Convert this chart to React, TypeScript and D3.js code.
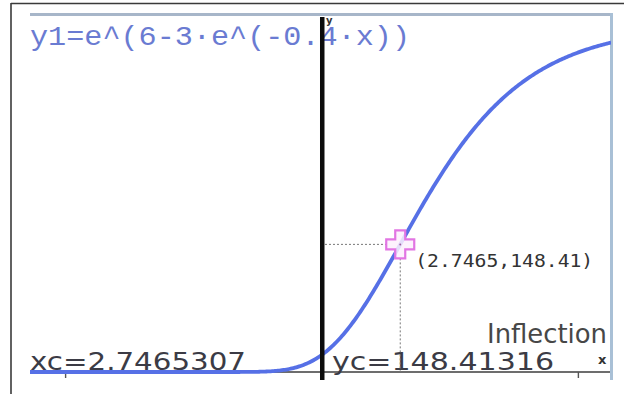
import React from "react";
import * as d3 from "d3";

// Function shown on the graph screen: y1 = e^(A - B·e^(-K·x))
const A = 6;
const B = 3;
const K = 0.4;

// Graph window (x and y ranges of the screen)
const xWindow = [-10.25, 10.18];
const yWindow = [-9.3, 414];

// Axis tick positions visible on the x axis
const xTicks = [-9, 9];

// Text fields shown on screen
const formulaLabel = "y1=e^(6-3·e^(-0.4·x))";
const pointLabel = "(2.7465,148.41)";
const xcLabel = "xc=2.7465307";
const ycLabel = "yc=148.41316";
const modeLabel = "Inflection";

const W = 624;
const H = 394;
const screen = { left: 30, right: 611, top: 16, bottom: 380 };

const f = (x: number) => Math.exp(A - B * Math.exp(-K * x));

export default function App() {
  const x = d3.scaleLinear().domain(xWindow).range([screen.left, 612]);
  const y = d3.scaleLinear().domain(yWindow).range([screen.bottom, screen.top]);

  const xs = d3.range(xWindow[0], xWindow[1] + 0.001, 0.05);
  const line = d3
    .line<number>()
    .x((d) => x(d))
    .y((d) => y(f(d)))
    .curve(d3.curveLinear);

  const xi = Math.log(B) / K;
  const yi = f(xi);
  const cx = x(xi);
  const cy = y(yi);
  const x0 = x(0);
  const y0 = y(0);

  // plus-shaped point marker
  const a = 14;
  const w = 5;
  const plus = `M${cx - w},${cy - a}H${cx + w}V${cy - w}H${cx + a}V${cy + w}H${cx + w}V${cy + a}H${cx - w}V${cy + w}H${cx - a}V${cy - w}H${cx - w}Z`;

  return (
    <div style={{ position: "fixed", left: 0, top: 0 }}>
      <svg width={W} height={H} style={{ display: "block", background: "#fff" }}>
        <defs>
          <clipPath id="scr">
            <rect x={screen.left} y={screen.top} width={screen.right - screen.left} height={screen.bottom - screen.top} />
          </clipPath>
        </defs>

        {/* outer frame */}
        <line x1={11} y1={3.5} x2={W} y2={3.5} stroke="#3a3a3a" strokeWidth={1.6} />
        <line x1={11} y1={3} x2={11} y2={H} stroke="#3a3a3a" strokeWidth={1.6} />

        {/* screen border */}
        <rect x={screen.left} y={13} width={screen.right - screen.left + 2} height={3} fill="#a7b6c9" />
        <rect x={screen.right - 1} y={13} width={3} height={screen.bottom - 13} fill="#a9c0d6" />

        {/* formula */}
        <text
          x={screen.left}
          y={45}
          fontFamily="'Liberation Mono', 'DejaVu Sans Mono', monospace"
          fontSize={28}
          fill="#6a7bd2"
          textLength={380}
          lengthAdjust="spacingAndGlyphs"
        >
          {formulaLabel}
        </text>

        {/* x axis */}
        <line x1={screen.left} y1={y0} x2={screen.right - 1} y2={y0} stroke="#3c3c3c" strokeWidth={1.4} />
        {xTicks.map((t) => (
          <line key={t} x1={x(t)} y1={y0} x2={x(t)} y2={y0 + 6} stroke="#555" strokeWidth={1.4} />
        ))}

        {/* bottom readouts */}
        <text
          x={screen.left}
          y={370}
          fontFamily="'DejaVu Sans', sans-serif"
          fontSize={24}
          fill="#3b3b45"
          textLength={216}
          lengthAdjust="spacingAndGlyphs"
        >
          {xcLabel}
        </text>
        <text
          x={332}
          y={370}
          fontFamily="'DejaVu Sans', sans-serif"
          fontSize={24}
          fill="#3b3b45"
          textLength={222}
          lengthAdjust="spacingAndGlyphs"
        >
          {ycLabel}
        </text>
        <text
          x={607}
          y={343}
          textAnchor="end"
          fontFamily="'DejaVu Sans', sans-serif"
          fontSize={27}
          fill="#474747"
          textLength={120}
          lengthAdjust="spacingAndGlyphs"
        >
          {modeLabel}
        </text>
        <text x={598} y={364} fontFamily="'DejaVu Sans', sans-serif" fontSize={13} fontWeight="bold" fill="#333">
          x
        </text>

        {/* curve */}
        <path d={line(xs) || ""} fill="none" stroke="#5670e6" strokeWidth={3.8} strokeLinejoin="round" clipPath="url(#scr)" />

        {/* y axis */}
        <rect x={x0 - 2} y={17} width={4.5} height={screen.bottom - 17} fill="#0c0c0c" />
        <text x={326} y={24} fontFamily="'DejaVu Sans', sans-serif" fontSize={10} fontWeight="bold" fill="#333">
          y
        </text>

        {/* trace guides */}
        <line x1={x0 + 3} y1={cy} x2={cx - a} y2={cy} stroke="#777" strokeWidth={1} strokeDasharray="2 2" />
        <line x1={cx} y1={cy + a} x2={cx} y2={y0} stroke="#777" strokeWidth={1} strokeDasharray="2 2" />

        {/* inflection point marker */}
        <path d={plus} fill="#fdf0fd" fillOpacity={0.85} stroke="#e275e3" strokeWidth={2.2} />
        <circle cx={cx} cy={cy} r={1} fill="#a060a0" />

        <text
          x={cx + 15}
          y={267}
          fontFamily="'DejaVu Sans Mono', monospace"
          fontSize={18}
          fill="#333"
          textLength={178}
          lengthAdjust="spacingAndGlyphs"
        >
          {pointLabel}
        </text>
      </svg>
    </div>
  );
}
